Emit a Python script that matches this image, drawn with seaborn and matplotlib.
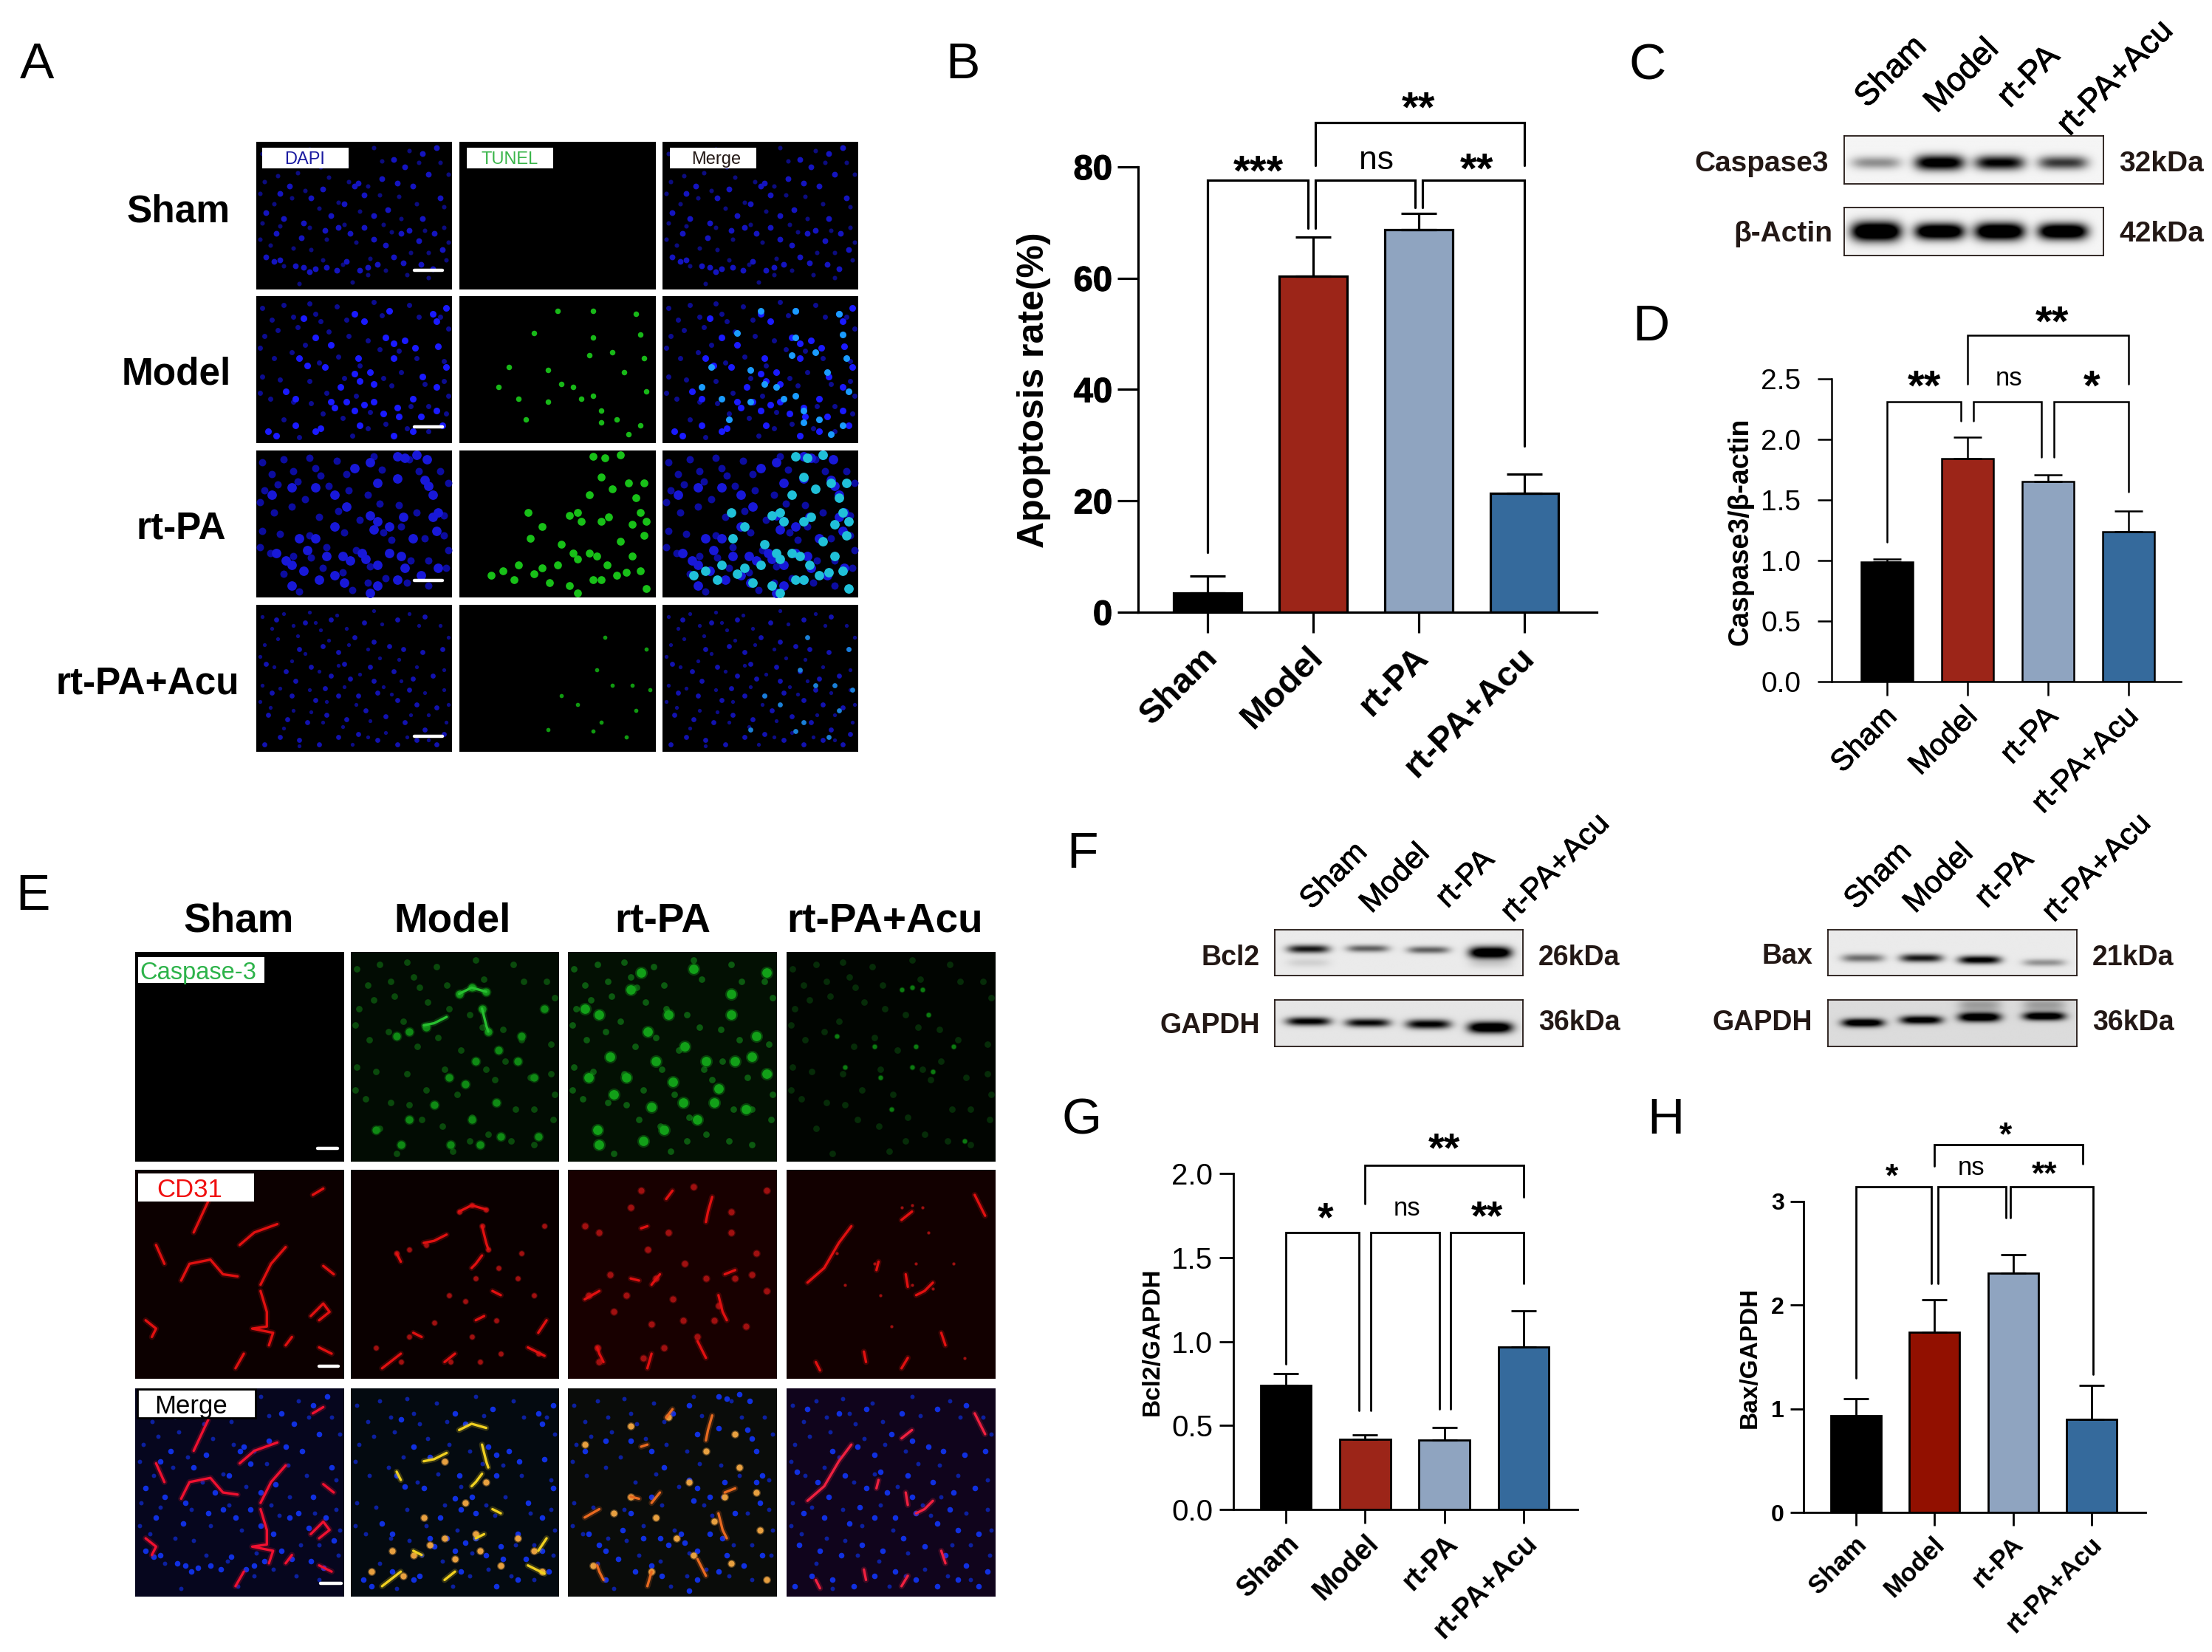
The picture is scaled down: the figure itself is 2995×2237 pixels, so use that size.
import numpy as np
import seaborn as sns
import matplotlib.pyplot as plt
import matplotlib.patheffects as pe
from matplotlib.patches import Rectangle
from matplotlib.transforms import ScaledTranslation

sns.set_style("white")
plt.rcParams['font.family'] = ['Liberation Sans', 'DejaVu Sans']
plt.rcParams['text.color'] = 'black'
plt.rcParams['xtick.color'] = 'black'
plt.rcParams['ytick.color'] = 'black'

W, H = 2995, 2237
fig = plt.figure(figsize=(W / 100, H / 100), dpi=100)

groups = ["Sham", "Model", "rt-PA", "rt-PA+Acu"]
colors = ["#000000", "#9c2518", "#8fa4c0", "#356a9c"]
colors_h = ["#000000", "#921000", "#8fa4c0", "#356a9c"]

# bar values
b_mean = [3.4, 60.4, 68.7, 21.4]
b_top = [6.5, 67.4, 71.6, 24.8]
d_mean = [0.99, 1.84, 1.655, 1.24]
d_top = [1.01, 2.02, 1.71, 1.41]
g_mean = [0.74, 0.416, 0.412, 0.968]
g_top = [0.81, 0.444, 0.488, 1.183]
h_mean = [0.934, 1.74, 2.31, 0.90]
h_top = [1.10, 2.05, 2.487, 1.223]

# brackets: x1, x2, top, left end, right end
b_brackets = [(0, 0.95, 77.6, 10.8, 69), (1.02, 1.965, 77.6, 69, 72.7), (2.035, 3, 77.6, 72.7, 29.8), (1.02, 3, 88, 80.3, 80.3)]
d_brackets = [(0, 0.92, 2.31, 1.15, 2.155), (1.07, 1.915, 2.31, 2.155, 1.855), (2.07, 3, 2.31, 1.855, 1.565), (1, 3, 2.86, 2.456, 2.456)]
g_brackets = [(0, 0.925, 1.65, 0.866, 0.59), (1.075, 1.935, 1.65, 0.59, 0.60), (2.08, 3, 1.65, 0.60, 1.344), (1, 3, 2.05, 1.82, 1.86)]
h_brackets = [(0, 0.96, 3.14, 1.295, 2.208), (1.04, 1.906, 3.14, 2.208, 2.845), (1.97, 3.02, 3.14, 2.845, 1.33), (1, 2.89, 3.548, 3.345, 3.36)]

# significance labels: x, y, text
b_marks = [(0.485, 81.2, "***"), (1.6, 81.2, "ns"), (2.55, 81.6, "**"), (2.0, 92.7, "**")]
d_marks = [(0.465, 2.53, "**"), (1.515, 2.50, "ns"), (2.54, 2.53, "*"), (2.05, 3.065, "**")]
g_marks = [(0.5, 1.80, "*"), (1.53, 1.79, "ns"), (2.54, 1.81, "**"), (2.0, 2.213, "**")]
h_marks = [(0.46, 3.33, "*"), (1.47, 3.32, "ns"), (2.4, 3.35, "**"), (1.9, 3.73, "*")]

# nuclei and stained cells of the micrographs, in percent of the panel
dapi_sham = [(5,78),(9,81),(12,80),(20,84),(24,85),(27,88),(30,86),(36,85),(41,87),(46,81),(53,87),(57,85),(62,83),(70,78),(75,82),(84,83),(90,86),(95,73),(91,62),(85,52),(83,67),(78,60),(74,62),(66,70),(60,66),(55,58),(48,62),(42,58),(35,60),(24,55),(23,65),(14,52),(10,62),(5,48),(28,38),(34,32),(45,42),(50,30),(55,36),(64,25),(67,46),(72,28),(80,30),(88,22),(94,38),(70,12),(85,8),(92,4),(76,17),(52,28),(38,50),(60,50),(17,30),(12,35)]
dapi_model = [(24,15),(50,12),(55,17),(68,10),(90,12),(92,17),(97,8),(30,28),(38,33),(22,42),(26,47),(35,48),(52,42),(66,28),(70,32),(76,30),(81,35),(70,42),(93,34),(50,53),(53,58),(60,60),(85,55),(80,70),(92,62),(97,48),(15,65),(20,70),(38,72),(40,76),(46,72),(50,78),(55,74),(60,72),(65,80),(72,76),(73,82),(84,82),(92,78),(95,88),(30,92),(33,90),(20,88),(6,92),(10,95),(53,88),(70,95),(80,92),(58,52),(43,62)]
dapi_rtpa = [(72,4),(76,5),(82,3),(87,6),(58,8),(50,12),(62,22),(72,19),(86,20),(88,24),(90,30),(93,42),(40,30),(30,25),(18,25),(8,30),(46,38),(58,44),(62,48),(60,54),(68,52),(75,45),(90,45),(92,55),(30,60),(40,52),(10,70),(15,75),(22,60),(26,68),(36,72),(44,72),(48,75),(54,70),(56,74),(62,78),(68,70),(74,72),(76,80),(84,85),(72,88),(62,92),(58,97),(45,90),(32,88),(24,82),(18,78),(93,80),(80,60),(40,85),(18,92)]
dapi_acu = [(10,10),(25,12),(38,10),(55,12),(72,10),(86,8),(50,22),(60,25),(68,28),(75,30),(85,32),(95,30),(22,30),(34,28),(42,32),(5,40),(15,45),(28,42),(38,48),(48,50),(58,42),(70,45),(80,50),(90,48),(8,60),(18,62),(30,65),(42,62),(52,62),(62,60),(72,65),(82,68),(92,70),(6,75),(16,78),(26,80),(36,75),(46,78),(56,72),(66,76),(76,80),(86,85),(96,88),(12,90),(22,92),(32,95),(42,90),(52,88),(62,92),(72,95),(82,92),(92,95),(4,95),(60,52),(78,58),(35,57),(20,52),(45,40)]
# fainter out-of-focus nuclei filling the gaps between the bright ones
dapi_faint = [(3,8),(8,16),(14,6),(19,14),(27,5),(33,17),(41,7),(46,16),(60,4),(64,13),(78,6),(83,14),(94,14),(98,22),(4,27),(11,23),(21,21),(30,12),(37,24),(47,27),(57,30),(63,36),(73,37),(82,42),(96,44),(2,35),(9,42),(18,38),(25,33),(32,45),(42,41),(53,47),(65,56),(74,52),(86,60),(96,58),(3,55),(12,57),(19,72),(27,58),(36,66),(45,56),(51,68),(58,79),(69,61),(79,75),(88,75),(98,68),(2,66),(7,70),(14,84),(22,96),(28,73),(34,80),(44,83),(49,95),(57,90),(66,87),(77,90),(88,92),(97,80)]
tunel_model = [(50,10),(68,10),(90,12),(38,25),(68,28),(92,26),(66,40),(78,38),(94,42),(84,52),(20,62),(30,70),(34,84),(45,72),(52,60),(58,62),(62,70),(68,68),(72,78),(72,86),(80,84),(86,94),(92,88),(25,48),(45,50),(95,65)]
tunel_rtpa = [(68,4),(74,5),(82,3),(86,22),(72,18),(94,22),(66,30),(78,26),(90,32),(92,42),(95,48),(56,44),(60,42),(62,48),(72,48),(76,45),(88,50),(94,58),(35,42),(36,60),(42,52),(52,64),(58,70),(60,74),(66,70),(70,72),(75,78),(82,62),(88,72),(92,82),(95,94),(50,78),(42,80),(38,84),(30,78),(22,82),(16,85),(28,88),(46,90),(56,92),(60,97),(72,88),(80,85),(85,83),(68,88)]
tunel_acu = [(74,22),(95,30),(70,44),(78,55),(88,55),(97,58),(90,72),(52,62),(60,68),(72,80),(85,90),(68,86),(45,85)]

# vessels in the CD31 panels, same unit
red_sham = [[(50,36),(57,30),(68,26)],[(22,53),(26,45),(36,43),(42,50),(49,51)],[(60,55),(65,45),(72,37)],[(60,58),(63,68),(63,75),(56,76),(66,78),(64,84)],[(84,70),(90,64),(93,68),(88,72)],[(5,72),(10,76),(8,80)],[(14,45),(10,36)],[(35,15),(28,30)],[(85,12),(90,9)],[(48,95),(52,88)],[(88,85),(94,88)],[(72,84),(75,80)],[(95,50),(90,46)]]
red_model = [[(52,20),(58,17),(65,19)],[(35,35),(40,34),(46,31)],[(63,27),(65,35),(66,38)],[(22,40),(24,44)],[(63,41),(60,45),(58,47)],[(68,58),(72,60)],[(30,78),(34,80)],[(60,72),(64,70)],[(85,85),(93,89)],[(45,92),(50,88)],[(15,95),(24,88)],[(90,78),(94,72)]]
red_rtpa = [[(47,14),(50,10)],[(35,28),(38,27)],[(66,25),(67,20),(69,13)],[(30,52),(34,53)],[(72,60),(74,68),(76,72)],[(14,85),(15,88),(17,92)],[(38,95),(40,88)],[(62,82),(66,90)],[(40,55),(44,50)],[(75,50),(80,48)],[(8,62),(15,58)]]
red_acu = [[(10,54),(18,47),(25,35),(31,27)],[(55,24),(60,20)],[(43,48),(44,44)],[(57,50),(58,56)],[(62,60),(66,58),(70,54)],[(37,87),(38,92)],[(14,92),(16,96)],[(90,12),(95,22)],[(74,78),(76,84)],[(55,95),(58,90)]]
green_model = [(22,40),(28,38),(36,36),(52,20),(58,17),(65,19),(63,27),(66,38),(93,27),(82,40),(71,47),(47,60),(55,63),(70,72),(58,80),(28,80),(48,92),(62,92),(72,88),(90,88),(12,85),(24,92),(40,73),(60,52),(88,60),(80,52)]
green_rtpa = [(8,27),(15,30),(30,18),(28,60),(38,38),(42,52),(40,74),(14,85),(36,90),(72,65),(70,72),(66,52),(80,52),(88,50),(50,62),(55,72),(62,80),(78,20),(78,30),(90,40),(95,58),(20,50),(10,60),(22,68),(48,30),(56,45),(85,75),(35,10),(60,8),(95,10),(15,92),(46,85)]
green_acu = [(55,18),(60,17),(65,18),(80,45),(62,45),(42,45),(28,55),(60,55),(70,57),(85,90),(50,75),(24,40),(45,60),(68,30)]
stain_merge_model = [(35,62),(45,35),(55,55),(65,45),(20,78),(30,80),(38,75),(45,72),(50,82),(60,70),(62,78),(72,85),(80,72),(88,78),(92,88),(10,88),(25,90)]
stain_merge_rtpa = [(8,27),(30,18),(48,14),(80,22),(82,38),(66,30),(90,50),(75,52),(30,52),(12,85),(42,62),(52,72),(60,80),(70,64),(78,84),(92,68),(95,92),(40,88),(22,60),(58,45)]


def px_axes(x0, y0, x1, y1):
    return fig.add_axes([x0 / W, 1 - y1 / H, (x1 - x0) / W, (y1 - y0) / H])


def ftext(x, y, s, size, ha="center", va="center", weight="normal", color="black", rotation=0, z=8, stroke=0):
    if rotation == 0:
        y = y + 0.14 * size
    t = fig.text(x / W, 1 - y / H, s, fontsize=size, ha=ha, va=va, fontweight=weight, color=color,
                 rotation=rotation, rotation_mode="anchor", zorder=z)
    if stroke:
        t.set_path_effects([pe.withStroke(linewidth=stroke, foreground=color)])


def white_box(x0, y0, x1, y1, edge="white", lw=0):
    fig.add_artist(Rectangle((x0 / W, 1 - y1 / H), (x1 - x0) / W, (y1 - y0) / H, transform=fig.transFigure,
                             fc="white", ec=edge, lw=lw, zorder=7))


def scale_bar(x0, x1, y, lw=3.2):
    fig.add_artist(plt.Line2D([x0 / W, x1 / W], [1 - y / H, 1 - y / H], color="white", lw=lw, zorder=7))


def cells(ax, pts, size, color, alpha=1.0):
    if len(pts) == 0:
        return
    arr = np.array(pts)
    sns.scatterplot(x=arr[:, 0], y=arr[:, 1], s=size, color=color, alpha=alpha, linewidth=0, ax=ax, legend=False)


def soft_cells(ax, pts, size, color):
    # a halo under each spot, the stains are not sharp discs
    cells(ax, pts, size * 1.8, color, alpha=0.35)
    cells(ax, pts, size, color)


def vessels(ax, lines, color, lw=2.4):
    for line in lines:
        arr = np.array(line)
        ax.plot(arr[:, 0], arr[:, 1], color=color, lw=lw * 2.4, alpha=0.22, solid_capstyle="round")
        ax.plot(arr[:, 0], arr[:, 1], color=color, lw=lw, solid_capstyle="round")


def micro(box, bg="black"):
    ax = px_axes(*box)
    ax.set_facecolor(bg)
    ax.set_xlim(0, 100)
    ax.set_ylim(100, 0)
    ax.set_xticks([])
    ax.set_yticks([])
    for sp in ax.spines.values():
        sp.set_visible(False)
    return ax


def finish(ax):
    ax.set_xlim(0, 100)
    ax.set_ylim(100, 0)
    ax.set_xlabel("")
    ax.set_ylabel("")


def bar_panel(mean, top, cols, axis_x, end_x, y0, ytop, c0, step, ymax, yticks, ytick_labels,
              brackets, marks, lw, tick_len, cap, tick_font, tick_weight, x_font, x_weight,
              star_font, ns_font, pad, xpad, xshift=0, x_stroke=0, y_stroke=0):
    ax = px_axes(axis_x, ytop, end_x, y0)
    ax.patch.set_alpha(0)
    sns.barplot(x=groups, y=mean, hue=groups, palette=cols, order=groups, hue_order=groups, legend=False,
                width=0.64, edgecolor="black", linewidth=lw, saturation=1, errorbar=None, ax=ax)
    ax.errorbar(range(4), mean, yerr=[[0] * 4, np.array(top) - np.array(mean)], fmt="none", ecolor="black",
                elinewidth=lw, capsize=cap, capthick=lw, clip_on=False)
    ax.set_xlim((axis_x - c0) / step, (end_x - c0) / step)
    ax.set_ylim(0, ymax)
    ax.set_yticks(yticks)
    ax.set_yticklabels(ytick_labels, fontsize=tick_font, fontweight=tick_weight)
    ax.set_xticks(range(4))
    ax.set_xticklabels(groups, rotation=45, ha="right", rotation_mode="anchor", fontsize=x_font, fontweight=x_weight)
    ax.tick_params(axis="y", length=tick_len, width=lw, pad=pad, left=True)
    ax.tick_params(axis="x", length=tick_len, width=lw, pad=xpad, bottom=True)
    for lab in ax.get_xticklabels():
        lab.set_transform(lab.get_transform() + ScaledTranslation(xshift / 100, 0, fig.dpi_scale_trans))
        if x_stroke:
            lab.set_path_effects([pe.withStroke(linewidth=x_stroke, foreground="black")])
    if y_stroke:
        for lab in ax.get_yticklabels():
            lab.set_path_effects([pe.withStroke(linewidth=y_stroke, foreground="black")])
    ax.set_xlabel("")
    ax.set_ylabel("")
    sns.despine(ax=ax)
    for side in ("left", "bottom"):
        ax.spines[side].set_linewidth(lw)
        ax.spines[side].set_color("black")
    for x1, x2, yt, yl, yr in brackets:
        ax.plot([x1, x1, x2, x2], [yl, yt, yt, yr], color="black", lw=lw, clip_on=False, solid_joinstyle="miter")
    for x, y, s in marks:
        if s == "ns":
            ax.annotate(s, (x, y), xytext=(0, -0.26 * ns_font), textcoords="offset points", ha="center",
                        va="baseline", fontsize=ns_font, annotation_clip=False)
        else:
            ax.annotate(s, (x, y), xytext=(0, -0.58 * star_font), textcoords="offset points", ha="center",
                        va="baseline", fontsize=star_font, fontweight="bold", annotation_clip=False)
    return ax


def blot(box, lane_x, lane_y, strength, half_w, half_h, base=0.93):
    ax = px_axes(*box)
    xx, yy = np.meshgrid(np.linspace(0, 1, 340), np.linspace(0, 1, 90))
    img = np.full(xx.shape, base)
    for x, y, s, hh in zip(lane_x, lane_y, strength, half_h):
        img -= s * np.exp(-((xx - x) / half_w) ** 4 - ((yy - y) / hh) ** 2)
    ax.imshow(np.clip(img, 0, 1), cmap="gray", vmin=0, vmax=1, aspect="auto", extent=(0, 1, 1, 0))
    ax.set_xticks([])
    ax.set_yticks([])
    for sp in ax.spines.values():
        sp.set_visible(True)
        sp.set_color("#231815")
        sp.set_linewidth(1.3)


# panel letters
for x, y, s in [(50, 81, "A"), (1303, 81, "B"), (2231, 82, "C"), (2235, 436, "D"), (44, 1207, "E"),
                (1465, 1150, "F"), (1465, 1510, "G"), (2255, 1510, "H")]:
    ftext(x, y, s, 50)

# A: TUNEL micrographs
a_cols = [(347, 612), (622, 888), (897, 1162)]
a_rows = [(192, 392), (401, 600), (610, 809), (819, 1018)]
a_dapi = [dapi_sham, dapi_model, dapi_rtpa, dapi_acu]
a_tunel = [[], tunel_model, tunel_rtpa, tunel_acu]
a_blue = ["#1414c0", "#1a1aff", "#1818d8", "#1212b0"]
a_faint = ["#0c0c80", "#0c0c90", "#0c0ca0", "#0c0c88"]
a_green = ["#12a012", "#18b818", "#18c018", "#109a10"]
a_merge = ["#1414c0", "#1a9cff", "#20c0d8", "#1a80d8"]
a_size = [32, 42, 85, 24]
for r, (y0, y1) in enumerate(a_rows):
    ax = micro((a_cols[0][0], y0, a_cols[0][1], y1))
    cells(ax, dapi_faint, a_size[r] * 0.6, a_faint[r])
    cells(ax, a_dapi[r], a_size[r], a_blue[r])
    finish(ax)
    ax = micro((a_cols[1][0], y0, a_cols[1][1], y1))
    cells(ax, a_tunel[r], a_size[r] * 0.7, a_green[r])
    finish(ax)
    ax = micro((a_cols[2][0], y0, a_cols[2][1], y1))
    cells(ax, dapi_faint, a_size[r] * 0.6, a_faint[r])
    cells(ax, a_dapi[r], a_size[r], a_blue[r])
    cells(ax, a_tunel[r], a_size[r], a_merge[r])
    finish(ax)
for y in (366, 578, 786, 997):
    scale_bar(561, 599, y)
for x0, s, c, dx in [(355, "DAPI", "#1a1aa0", 58), (632, "TUNEL", "#3ab54a", 58), (907, "Merge", "#231815", 63)]:
    white_box(x0, 200, x0 + 117, 228)
    ftext(x0 + dx, 214, s, 17, color=c)
for x, y, s in [(242, 282, "Sham"), (239, 502, "Model"), (245, 711, "rt-PA"), (200, 921, "rt-PA+Acu")]:
    ftext(x, y, s, 37, weight="bold")

# B
bar_panel(b_mean, b_top, colors, 1541, 2162, 829, 226, 1635, 143, 80, [0, 20, 40, 60, 80],
          ["0", "20", "40", "60", "80"], b_brackets, b_marks, 2.3, 20, 17, 34, "bold", 34, "bold", 42, 32, 5, 8,
          xshift=-9, y_stroke=0.8)
ftext(1400, 528, "Apoptosis rate(%)", 36, weight="bold", rotation=90)

# C
c_lanes = [0.123, 0.368, 0.60, 0.845]
blot((2497, 184, 2848, 249), c_lanes, [0.56] * 4, [0.4, 1.15, 1.0, 0.75], 0.095, [0.13, 0.16, 0.15, 0.14], base=0.96)
blot((2497, 281, 2848, 346), c_lanes, [0.5] * 4, [1.5, 1.4, 1.45, 1.4], 0.095, [0.2, 0.17, 0.18, 0.17], base=0.96)
ftext(2476, 218, "Caspase3", 28, ha="right", weight="bold", color="#231815")
ftext(2481, 313, "β-Actin", 28, ha="right", weight="bold", color="#231815")
ftext(2869, 218, "32kDa", 28, ha="left", weight="bold", color="#231815")
ftext(2869, 313, "42kDa", 28, ha="left", weight="bold", color="#231815")
for x, y, s in zip([2520, 2614, 2713, 2794], [139, 146, 139, 177], groups):
    ftext(x, y, s, 32, ha="left", rotation=45, stroke=0.7)

# D
bar_panel(d_mean, d_top, colors, 2480, 2953, 923, 513, 2555, 109, 2.5, [0, 0.5, 1, 1.5, 2, 2.5],
          ["0.0", "0.5", "1.0", "1.5", "2.0", "2.5"], d_brackets, d_marks, 1.8, 14, 13.7, 28, "normal", 29.5, "normal", 42, 25, 16, 6,
          xshift=-6, x_stroke=0.6)
ftext(2357, 720, "Caspase3/β-actin", 27, weight="bold", rotation=90)

# E: immunofluorescence
e_cols = [(183, 466), (475, 757), (769, 1052), (1065, 1348)]
e_rows = [(1289, 1573), (1584, 1867), (1880, 2162)]
e_green = [[], green_model, green_rtpa, green_acu]
e_red = [red_sham, red_model, red_rtpa, red_acu]
e_blue = [dapi_sham, dapi_model, dapi_rtpa, dapi_acu]
e_stain = [[], stain_merge_model, stain_merge_rtpa, []]
e_merge_line = ["#f01030", "#f0d020", "#e86a20", "#f02040"]
green_size = [0, 55, 85, 18]
green_col = ["#000000", "#0f8a14", "#12a018", "#0c7a10"]
haze_col = ["#000000", "#0a4a0c", "#0c5a10", "#062c08"]
for c, (x0, x1) in enumerate(e_cols):
    ax = micro((x0, e_rows[0][0], x1, e_rows[0][1]), bg=["black", "#020c03", "#031003", "#010501"][c])
    if c > 0:
        cells(ax, dapi_faint, 40, haze_col[c])
    soft_cells(ax, e_green[c], green_size[c], green_col[c])
    if c == 1:
        vessels(ax, red_model[:3], "#28c030", 2.4)
    finish(ax)
    ax = micro((x0, e_rows[1][0], x1, e_rows[1][1]), bg=["#0c0000", "#0a0000", "#180000", "#120000"][c])
    vessels(ax, e_red[c], "#e01010")
    soft_cells(ax, e_green[c], green_size[c] * 0.4, "#a01010")
    finish(ax)
    ax = micro((x0, e_rows[2][0], x1, e_rows[2][1]), bg=["#06061e", "#040a10", "#0a0c0a", "#10041c"][c])
    cells(ax, dapi_faint, 18, "#0c20a0")
    cells(ax, e_blue[c], 30, "#1030e0")
    vessels(ax, e_red[c], e_merge_line[c])
    soft_cells(ax, e_stain[c], 35, "#e8a040")
    finish(ax)
for x0, x1, y in [(430, 457, 1555), (432, 458, 1850), (434, 462, 2144)]:
    scale_bar(x0, x1, y)
for x, s in zip([323, 613, 897, 1198], groups):
    ftext(x, 1242, s, 39.5, weight="bold")
white_box(187, 1296, 358, 1331)
ftext(189, 1314, "Caspase-3", 23.5, ha="left", color="#2db34a")
white_box(187, 1589, 344, 1627)
ftext(257, 1608, "CD31", 25, color="#f01010")
white_box(186, 1881, 346, 1920, edge="black", lw=2)
ftext(259, 1901, "Merge", 25)

# F
f_lanes = [0.135, 0.375, 0.62, 0.87, 0.135, 0.87]
blot((1726, 1259, 2062, 1321), f_lanes, [0.42, 0.41, 0.44, 0.50, 0.72, 0.75],
     [0.85, 0.55, 0.55, 1.3, 0.1, 0.1], 0.085, [0.09, 0.08, 0.08, 0.13, 0.1, 0.1], base=0.92)
blot((1726, 1354, 2062, 1417), f_lanes[:4], [0.47, 0.50, 0.53, 0.60], [0.95, 0.9, 0.95, 1.25], 0.09, [0.09, 0.09, 0.1, 0.12], base=0.9)
r_lanes = [0.14, 0.375, 0.61, 0.87, 0.61, 0.87]
blot((2475, 1259, 2812, 1321), r_lanes[:4], [0.62, 0.62, 0.66, 0.72], [0.5, 0.85, 1.0, 0.35], 0.085, [0.09, 0.09, 0.09, 0.08], base=0.92)
blot((2475, 1354, 2812, 1417), r_lanes, [0.5, 0.44, 0.38, 0.36, 0.12, 0.12], [1.1, 1.0, 1.15, 1.1, 0.25, 0.25], 0.085,
     [0.09, 0.09, 0.1, 0.09, 0.14, 0.14], base=0.86)
ftext(1706, 1293, "Bcl2", 27, ha="right", weight="bold", color="#231815")
ftext(1706, 1385, "GAPDH", 27, ha="right", weight="bold", color="#231815")
ftext(2083, 1293, "26kDa", 27, ha="left", weight="bold", color="#231815")
ftext(2083, 1381, "36kDa", 27, ha="left", weight="bold", color="#231815")
ftext(2454, 1291, "Bax", 27, ha="right", weight="bold", color="#231815")
ftext(2454, 1381, "GAPDH", 27, ha="right", weight="bold", color="#231815")
ftext(2833, 1293, "21kDa", 27, ha="left", weight="bold", color="#231815")
ftext(2833, 1381, "36kDa", 27, ha="left", weight="bold", color="#231815")
for x, y, s in zip([1768, 1849, 1952, 2040], [1225, 1230, 1223, 1242], groups):
    ftext(x, y, s, 30, ha="left", rotation=45, stroke=0.6)
for x, y, s in zip([2505, 2585, 2682, 2773], [1225, 1230, 1223, 1242], groups):
    ftext(x, y, s, 30, ha="left", rotation=45, stroke=0.6)

# G
bar_panel(g_mean, g_top, colors, 1670, 2136, 2044, 1589, 1741, 107.3, 2.0, [0, 0.5, 1, 1.5, 2],
          ["0.0", "0.5", "1.0", "1.5", "2.0"], g_brackets, g_marks, 2.0, 14, 12, 29, "normal", 27, "bold", 40, 25, 6, 6)
ftext(1560, 1817, "Bcl2/GAPDH", 24, weight="bold", rotation=90)

# H
bar_panel(h_mean, h_top, colors_h, 2442, 2905, 2048, 1627, 2513, 106.3, 3, [0, 1, 2, 3],
          ["0", "1", "2", "3"], h_brackets, h_marks, 2.0, 13, 12, 23, "bold", 25, "bold", 32, 25, 6, 6, xshift=-3)
ftext(2369, 1838, "Bax/GAPDH", 24, weight="bold", rotation=90)

fig.savefig("out.png", dpi=100, facecolor="white")
